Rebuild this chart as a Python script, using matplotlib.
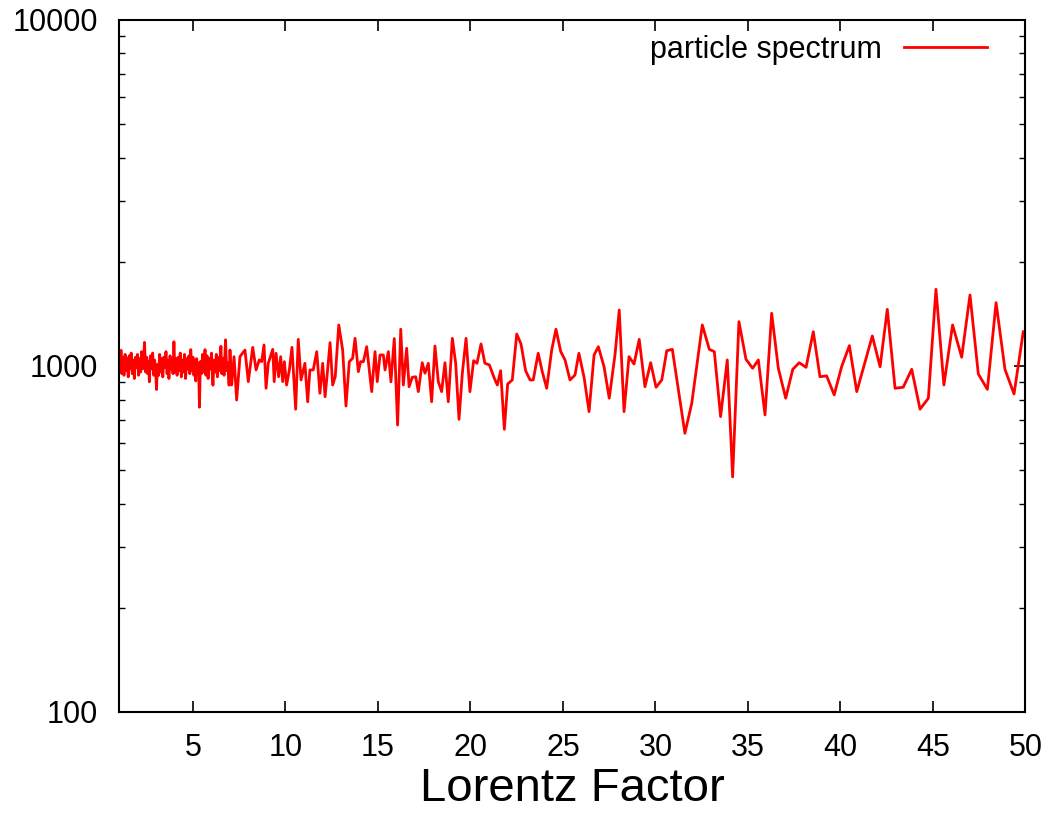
import matplotlib
matplotlib.use("Agg")
import matplotlib.pyplot as plt
import numpy as np
from matplotlib.ticker import LogLocator, NullFormatter


# spectrum; the bins are dense at low gamma and thin out above ~15
LORENTZ_LOW = [
    1.00, 1.05, 1.11, 1.16, 1.22, 1.27, 1.33, 1.38, 1.44, 1.50,
    1.55, 1.61, 1.66, 1.72, 1.78, 1.83, 1.89, 1.94, 2.00, 2.06,
    2.11, 2.17, 2.22, 2.28, 2.33, 2.38, 2.44, 2.50, 2.55, 2.60,
    2.64, 2.70, 2.76, 2.82, 2.88, 2.93, 2.98, 3.03, 3.08, 3.14,
    3.20, 3.26, 3.31, 3.37, 3.42, 3.48, 3.54, 3.60, 3.65, 3.70,
    3.76, 3.82, 3.88, 3.92, 3.97, 4.02, 4.08, 4.14, 4.20, 4.25,
    4.31, 4.37, 4.42, 4.48, 4.54, 4.60, 4.66, 4.72, 4.78, 4.83,
    4.88, 4.94, 5.00, 5.05, 5.10, 5.15, 5.20, 5.25, 5.30, 5.35,
    5.40, 5.46, 5.52, 5.58, 5.65, 5.70, 5.76, 5.82, 5.88, 5.94,
    6.00, 6.04, 6.08, 6.14, 6.20, 6.26, 6.32, 6.38, 6.44, 6.51,
    6.56, 6.62, 6.68, 6.76, 6.82, 6.88, 6.95,
]
COUNTS_LOW = [
    1010, 960, 1110, 950, 1060, 940, 1080, 970, 1050, 930,
    1070, 980, 1090, 950, 1040, 920, 1060, 990, 1080, 940,
    1050, 960, 1100, 980, 1040, 1170, 960, 1060, 950, 1030,
    900, 1070, 980, 1090, 940, 1040, 970, 855, 1010, 940,
    1080, 960, 1050, 930, 1060, 990, 1100, 950, 1040, 920,
    1070, 980, 1030, 950, 1175, 960, 1050, 940, 1060, 970,
    1090, 930, 1040, 960, 1080, 920, 1050, 980, 1070, 950,
    1115, 970, 1060, 940, 1040, 905, 1050, 990, 1020, 760,
    1030, 950, 1080, 960, 1115, 940, 1070, 920, 1050, 980,
    1090, 950, 880, 1040, 960, 1080, 930, 1060, 970, 1140,
    950, 1050, 940, 1190, 970, 1020, 880,
]

LORENTZ_MID = [
    7.00, 7.09, 7.22, 7.36, 7.54, 7.81, 7.99, 8.23, 8.41, 8.58,
    8.71, 8.84, 8.95, 9.07, 9.31, 9.39, 9.49, 9.63, 9.74, 9.85,
    9.94, 10.06, 10.21, 10.35, 10.55, 10.69, 10.84, 11.05, 11.20, 11.32,
    11.50, 11.69, 11.86, 12.01, 12.14, 12.26, 12.41, 12.55, 12.69, 12.88,
    13.09, 13.27, 13.45, 13.63, 13.76, 13.94, 14.06, 14.21, 14.39, 14.66,
    14.84, 14.96, 15.11, 15.29,
]
COUNTS_MID = [
    1112, 881, 1064, 797, 1064, 1112, 901, 1132, 974, 1041,
    1029, 1150, 862, 1018, 1117, 901, 1088, 931, 1064, 901,
    1029, 881, 974, 1132, 750, 1194, 911, 1018, 788, 974,
    974, 1100, 834, 1018, 815, 953, 1168, 881, 931, 1314,
    1112, 766, 1029, 1053, 1202, 963, 1029, 1029, 1137, 843,
    1100, 901, 1076, 1076,
]

LORENTZ_HIGH = [
    15.38, 15.56, 15.70, 15.88, 16.06, 16.23, 16.37, 16.55, 16.68, 16.85,
    17.04, 17.18, 17.39, 17.54, 17.72, 17.90, 18.08, 18.26, 18.44, 18.62,
    18.80, 19.02, 19.20, 19.38, 19.56, 19.76, 19.97, 20.17, 20.35, 20.57,
    20.78, 21.02, 21.29, 21.45, 21.63, 21.83, 22.01, 22.26, 22.50, 22.73,
    22.98, 23.22, 23.39, 23.66, 23.88, 24.12, 24.39, 24.62, 24.88, 25.11,
    25.38, 25.65, 25.86, 26.14, 26.41, 26.68, 26.91, 27.22, 27.50, 27.81,
    28.04, 28.30, 28.57, 28.84, 29.12, 29.43, 29.74, 30.03, 30.34, 30.61,
    30.91, 31.59, 31.96, 32.53, 32.91, 33.18, 33.52, 33.88, 34.17, 34.51,
    34.89, 35.25, 35.56, 35.92, 36.28, 36.64, 37.04, 37.42, 37.77, 38.14,
    38.53, 38.89, 39.25, 39.66, 40.06, 40.48, 40.88, 41.72, 42.14, 42.53,
    42.95, 43.39, 43.85, 44.30, 44.75, 45.16, 45.59, 46.06, 46.55, 47.00,
    47.45, 47.94, 48.41, 48.89, 49.38, 49.88,
]
COUNTS_HIGH = [
    974, 1100, 900, 1200, 675, 1277, 881, 1125, 871, 927,
    931, 843, 1022, 953, 1018, 788, 1142, 901, 843, 1022,
    788, 1202, 1018, 701, 953, 1202, 843, 1036, 1018, 1158,
    1018, 1007, 921, 881, 969, 656, 887, 911, 1237, 1158,
    969, 911, 911, 1088, 963, 862, 1112, 1277, 1100, 1041,
    911, 942, 1088, 927, 738, 1076, 1137, 995, 807, 1076,
    1451, 738, 1064, 1013, 1194, 871, 1022, 868, 911, 1107,
    1117, 639, 780, 1314, 1117, 1100, 714, 1041, 478, 1343,
    1046, 985, 1041, 722, 1420, 985, 807, 978, 1022, 991,
    1256, 931, 936, 825, 995, 1145, 843, 1221, 995, 1458,
    862, 868, 978, 750, 807, 1666, 881, 1314, 1060, 1604,
    948, 856, 1524, 978, 830, 1256,
]

X_TICKS = [5, 10, 15, 20, 25, 30, 35, 40, 45, 50]
Y_TICKS = [100, 1000, 10000]
SERIES_LABEL = "particle spectrum"
X_LABEL = "Lorentz Factor"


def main() -> None:
    plt.rcParams["font.family"] = ["Liberation Sans", "DejaVu Sans"]

    lorentz = np.concatenate([LORENTZ_LOW, LORENTZ_MID, LORENTZ_HIGH])
    counts = np.concatenate([COUNTS_LOW, COUNTS_MID, COUNTS_HIGH])

    fig = plt.figure(figsize=(10.52, 8.15), dpi=100)
    ax = fig.add_axes([0.1131, 0.1264, 0.8617, 0.8491])
    ax.plot(lorentz, counts, color="#ff0000", lw=2.0, label=SERIES_LABEL)

    ax.set_yscale("log")
    ax.set_xlim(1, 50)
    ax.set_ylim(100, 10000)
    ax.set_xticks(X_TICKS)
    ax.set_yticks(Y_TICKS)
    ax.set_yticklabels([str(t) for t in Y_TICKS])
    ax.yaxis.set_minor_locator(LogLocator(base=10, subs=np.arange(2, 10)))
    ax.yaxis.set_minor_formatter(NullFormatter())

    ax.tick_params(which="both", direction="in", top=True, right=True, labelsize=22)
    ax.tick_params(which="major", length=8, width=1.2)
    ax.tick_params(which="minor", length=4.5, width=1.0)
    ax.tick_params(axis="x", which="major", pad=15)
    ax.tick_params(axis="y", which="major", pad=15)
    for spine in ax.spines.values():
        spine.set_linewidth(1.5)

    ax.set_xlabel(X_LABEL, fontsize=34, labelpad=3)
    ax.legend(loc="center right", bbox_to_anchor=(0.958, 0.957), frameon=False,
              markerfirst=False, fontsize=22, handlelength=2.74, handletextpad=0.7,
              borderpad=0, borderaxespad=0)

    fig.savefig("out.png", dpi=100)
    plt.close(fig)


if __name__ == "__main__":
    main()
